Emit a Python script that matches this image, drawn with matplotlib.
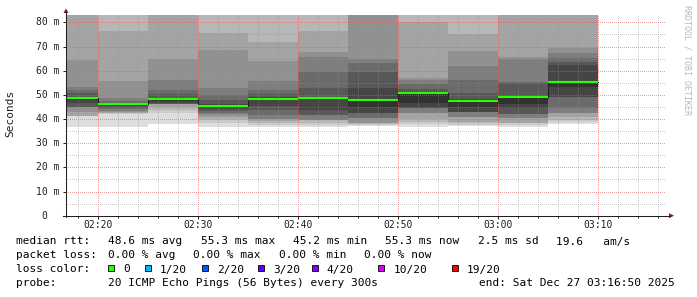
import datetime as dt
import matplotlib
matplotlib.use('Agg')
import matplotlib.pyplot as plt
import matplotlib.dates as mdates
from matplotlib.lines import Line2D
from matplotlib.patches import Polygon, Rectangle
from matplotlib.ticker import MultipleLocator

W, H = 697, 297
DAY = (2025, 12, 27)

# 5 minute steps, median rtt and the 20 sorted ping rtts (ms) of each step
step_start = ['02:15', '02:20', '02:25', '02:30', '02:35', '02:40',
              '02:45', '02:50', '02:55', '03:00', '03:05']
median_ms = [48.6, 46.1, 48.1, 45.2, 48.1, 48.6, 48.0, 50.6, 47.6, 49.0, 55.3]

rtt_0215 = [36.9, 41.2, 41.2, 41.2, 43.0, 45.1, 45.1, 45.1, 46.5, 47.8, 48.9, 49.1, 50.6, 52.0, 53.1, 64.4, 86.0, 90.0, 95.0, 100.0]
rtt_0220 = [36.9, 42.0, 42.3, 42.5, 42.8, 43.4, 44.0, 44.6, 45.4, 45.9, 46.2, 46.3, 46.6, 47.4, 48.7, 55.8, 76.4, 86.0, 92.0, 100.0]
rtt_0225 = [37.9, 42.5, 43.7, 45.0, 46.2, 46.2, 46.2, 46.3, 46.8, 47.4, 48.3, 48.8, 50.2, 52.0, 56.1, 64.8, 86.0, 90.0, 95.0, 100.0]
rtt_0230 = [36.8, 38.5, 39.8, 40.6, 41.3, 41.9, 42.6, 43.4, 44.3, 44.9, 45.4, 46.3, 47.8, 49.9, 52.7, 68.6, 75.7, 84.0, 95.0, 100.0]
rtt_0235 = [36.8, 37.6, 38.4, 39.0, 39.9, 39.9, 41.6, 43.7, 45.4, 47.9, 48.3, 49.0, 50.2, 52.0, 55.7, 64.0, 71.7, 85.0, 95.0, 100.0]
rtt_0240 = [36.9, 37.5, 38.5, 39.6, 39.6, 39.6, 41.6, 41.6, 43.7, 48.3, 48.8, 49.2, 52.7, 59.5, 65.7, 67.8, 76.4, 86.0, 95.0, 100.0]
rtt_0245 = [37.1, 37.4, 37.8, 38.3, 38.3, 40.3, 40.3, 42.4, 42.4, 45.1, 48.3, 52.7, 59.5, 63.3, 64.7, 86.0, 90.0, 93.0, 96.0, 100.0]
rtt_0250 = [36.9, 37.9, 38.8, 40.0, 42.4, 42.4, 44.4, 44.4, 44.4, 46.5, 50.8, 51.2, 52.5, 54.3, 56.1, 56.9, 80.3, 90.0, 95.0, 100.0]
rtt_0255 = [37.0, 37.6, 38.3, 38.9, 41.0, 41.0, 43.0, 43.0, 43.0, 45.1, 47.8, 48.3, 50.9, 56.1, 61.9, 68.3, 75.0, 85.0, 95.0, 100.0]
rtt_0300 = [36.8, 37.7, 38.5, 38.5, 40.3, 40.3, 41.9, 41.9, 44.4, 46.2, 49.3, 49.6, 54.8, 55.4, 64.7, 65.8, 86.0, 90.0, 95.0, 100.0]
rtt_0305 = [37.9, 38.8, 39.6, 41.0, 42.4, 42.4, 44.4, 49.2, 49.2, 53.4, 55.8, 62.3, 63.7, 65.1, 67.2, 69.5, 86.0, 90.0, 95.0, 100.0]

y_ticks = [0, 10, 20, 30, 40, 50, 60, 70, 80]
y_tick_labels = ['0', '10 m', '20 m', '30 m', '40 m', '50 m', '60 m', '70 m', '80 m']
x_tick_labels = ['02:20', '02:30', '02:40', '02:50', '03:00', '03:10']

loss_labels = ['0', '1/20', '2/20', '3/20', '4/20', '10/20', '19/20']
loss_colors = ['#26ff00', '#00b8ff', '#0059ff', '#5e00ff', '#7e00ff', '#dd00ff', '#ff0000']

# smokeping shades, outermost pair first
smoke_colors = ['#dddddd', '#cacaca', '#b7b7b7', '#a4a4a4', '#919191',
                '#7e7e7e', '#6b6b6b', '#585858', '#454545', '#323232']

MONO = 'DejaVu Sans Mono'


def t(hm, sec=0):
    return dt.datetime(*DAY, int(hm[:2]), int(hm[3:5]), sec)


def fx(x):
    return x / W


def fy(y):
    return 1 - y / H


rtts = [rtt_0215, rtt_0220, rtt_0225, rtt_0230, rtt_0235, rtt_0240,
        rtt_0245, rtt_0250, rtt_0255, rtt_0300, rtt_0305]
x0 = [mdates.date2num(t(s)) for s in step_start]
step = 5 / 1440.0
x1 = [v + step for v in x0]

fig = plt.figure(figsize=(W / 100, H / 100), dpi=100)
fig.patch.set_facecolor('white')

left, right, top, bottom = 66, 666, 14.6, 215.7
ax = fig.add_axes([fx(left), fy(bottom), (right - left) / W, (bottom - top) / H])
ax.set_facecolor('white')

# smoke: band k spans ping k .. ping 21-k
for k in range(10):
    lo = [r[k] for r in rtts]
    hi = [r[19 - k] for r in rtts]
    ax.bar(x0, [h - l for h, l in zip(hi, lo)], bottom=lo, width=step, align='edge',
           color=smoke_colors[k], linewidth=0, antialiased=False, zorder=1)

# median: dark step line with loss-coloured segments on top
ax.step(x0 + [x1[-1]], median_ms + [median_ms[-1]], where='post',
        color='#202020', lw=0.75, zorder=4)
ax.hlines(median_ms, x0, x1, colors=loss_colors[0], lw=1.5, zorder=5)

ax.set_xlim(mdates.date2num(t('02:16', 50)), mdates.date2num(t('03:16', 50)))
ax.set_ylim(0, 83.2)

ax.set_xticks([mdates.date2num(t(s)) for s in x_tick_labels])
ax.set_xticklabels(x_tick_labels, family=MONO, fontsize=7, color='#202020')
ax.xaxis.set_minor_locator(mdates.MinuteLocator(byminute=range(0, 60, 2)))
ax.set_yticks(y_ticks)
ax.set_yticklabels([])
ax.yaxis.set_minor_locator(MultipleLocator(5))

ax.tick_params(which='both', direction='out', color='#202020', width=0.7)
ax.tick_params(axis='x', which='major', length=2.2, pad=0.8)
ax.tick_params(axis='x', which='minor', length=1.2)
ax.tick_params(axis='y', which='major', length=2.2)
ax.tick_params(axis='y', which='minor', length=0)

ax.set_axisbelow(False)
ax.grid(which='major', color='#de5f5f', alpha=0.6, lw=0.72, linestyle=(0, (1, 2)),
        antialiased=False)
ax.grid(which='minor', color='#8f8f8f', alpha=0.45, lw=0.72, linestyle=(0, (1, 2)),
        antialiased=False)
for s in ax.spines.values():
    s.set_visible(False)

# y tick labels, rrdtool keeps the unit column even for zero
for v, lab in zip(y_ticks, y_tick_labels):
    xr = 59.5 if lab.endswith('m') else 47.5
    ax.text((xr - left) / (right - left), v, lab, transform=ax.get_yaxis_transform(),
            ha='right', va='center', family=MONO, fontsize=7, color='#202020')

# axes with arrows
fig.add_artist(Line2D([fx(left), fx(left)], [fy(bottom + 1), fy(11)], color='#202020', lw=0.75))
fig.add_artist(Line2D([fx(63), fx(670)], [fy(bottom), fy(bottom)], color='#202020', lw=0.75))
fig.add_artist(Polygon([(fx(left - 2.5), fy(13)), (fx(left + 2.5), fy(13)), (fx(left), fy(8.5))],
                       closed=True, color='#a01010', lw=0))
fig.add_artist(Polygon([(fx(669), fy(bottom - 2.5)), (fx(669), fy(bottom + 2.5)), (fx(674), fy(bottom))],
                       closed=True, color='#a01010', lw=0))

fig.text(fx(10.5), fy(113.5), 'Seconds', rotation=90, ha='center', va='center',
         family=MONO, fontsize=8, color='#202020')
fig.text(fx(687), fy(60), 'RRDTOOL / TOBI OETIKER', rotation=270, ha='center', va='center',
         family=MONO, fontsize=6, color='#b8b8b8')

# legend, laid out on rrdtool's character grid
pitch = 7.1


def legend(col, y, s):
    fig.text(fx(16 + col * pitch), fy(y), s, ha='left', va='baseline',
             family=MONO, fontsize=8, color='black')


legend(0, 244.5, 'median rtt:')
legend(13, 244.5, '48.6 ms avg')
legend(26, 244.5, '55.3 ms max')
legend(39, 244.5, '45.2 ms min')
legend(52, 244.5, '55.3 ms now')
legend(65, 244.5, '2.5 ms sd')
legend(76, 244.5, '19.6   am/s')

legend(0, 258.5, 'packet loss:')
legend(13, 258.5, '0.00 % avg')
legend(25, 258.5, '0.00 % max')
legend(37, 258.5, '0.00 % min')
legend(49, 258.5, '0.00 % now')

legend(0, 272.5, 'loss color:')
box_x = [108.3, 145, 201.7, 258.3, 311.7, 378.3, 451.7]
for bx, lab, col in zip(box_x, loss_labels, loss_colors):
    fig.add_artist(Rectangle((fx(bx), fy(271.3)), 6 / W, 6 / H, facecolor=col,
                             edgecolor='black', lw=0.6))
    fig.text(fx(bx + 15), fy(272.5), lab, ha='left', va='baseline',
             family=MONO, fontsize=8, color='black')

legend(0, 286.3, 'probe:')
legend(13, 286.3, '20 ICMP Echo Pings (56 Bytes) every 300s')
fig.text(fx(479.3), fy(286.3), 'end: Sat Dec 27 03:16:50 2025', ha='left', va='baseline',
         family=MONO, fontsize=8, color='black')

fig.savefig('out.png', dpi=100, facecolor='white')
